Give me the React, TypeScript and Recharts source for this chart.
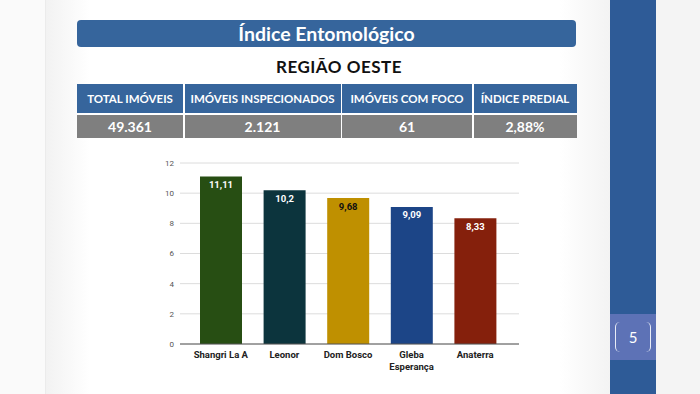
import { BarChart, Bar, XAxis, YAxis, CartesianGrid, LabelList, Cell } from "recharts";

const bairros = ["Shangri La A", "Leonor", "Dom Bosco", "Gleba Esperança", "Anaterra"];
const indices = [11.11, 10.2, 9.68, 9.09, 8.33];
const barColors = ["#274e13", "#0c343d", "#bf9000", "#1c4587", "#85200c"];
const labelColors = ["#ffffff", "#ffffff", "#111111", "#ffffff", "#ffffff"];
const yTicks = [0, 2, 4, 6, 8, 10, 12];

const tableHeaders = ["TOTAL IMÓVEIS", "IMÓVEIS INSPECIONADOS", "IMÓVEIS COM FOCO", "ÍNDICE PREDIAL"];
const tableValues = ["49.361", "2.121", "61", "2,88%"];
const colWidths = [106, 156, 130, 103];

const data = bairros.map((name, i) => ({ name, value: indices[i] }));

const fmt = (v: any) => String(v).replace(".", ",");

// long names go on two lines, like the sheet chart does
function CategoryTick(props: any) {
  const { x, y, payload } = props;
  const name: string = payload.value;
  const lines = name.length > 12 ? [name.slice(0, name.indexOf(" ")), name.slice(name.indexOf(" ") + 1)] : [name];
  return (
    <text x={x} y={y} textAnchor="middle" fontSize={9.5} fontWeight="bold" fontFamily="Roboto" fill="#222">
      {lines.map((l, i) => (
        <tspan key={l} x={x} dy={i === 0 ? 8 : 11.5}>
          {l}
        </tspan>
      ))}
    </text>
  );
}

function ValueLabel(props: any) {
  const { x, y, width, index, value } = props;
  return (
    <text
      x={x + width / 2}
      y={y + 9}
      textAnchor="middle"
      dominantBaseline="middle"
      fontSize={9.5}
      fontWeight="bold"
      fontFamily="Roboto"
      fill={labelColors[index]}
    >
      {fmt(value)}
    </text>
  );
}

export default function App() {
  return (
    <div
      style={{
        position: "absolute",
        left: 0,
        top: 0,
        width: 700,
        height: 394,
        overflow: "hidden",
        background: "linear-gradient(90deg, #fafafa 0px, #fafafa 45px, #e4e4e4 45px, #f2f2f2 46px, #ffffff 90px, #ffffff 560px, #f3f3f3 610px)",
        fontFamily: "Lato, 'Open Sans', sans-serif",
      }}
    >
      {/* right band */}
      <div style={{ position: "absolute", left: 610, top: 0, width: 46, height: 394, background: "#2e5b97" }} />
      <div style={{ position: "absolute", left: 656, top: 0, width: 44, height: 394, background: "#f4f4f4" }} />
      <div
        style={{
          position: "absolute",
          left: 610,
          top: 314,
          width: 46,
          height: 46,
          background: "#5d72b6",
          display: "flex",
          alignItems: "center",
          justifyContent: "center",
        }}
      >
        <div
          style={{
            width: 34,
            height: 30,
            borderLeft: "1.5px solid #e8ecf6",
            borderRight: "1.5px solid #e8ecf6",
            borderRadius: 5,
            color: "#fff",
            fontSize: 15,
            fontFamily: "Lato",
            display: "flex",
            alignItems: "center",
            justifyContent: "center",
          }}
        >
          5
        </div>
      </div>

      {/* title */}
      <div
        style={{
          position: "absolute",
          left: 77,
          top: 20,
          width: 499,
          height: 27,
          borderRadius: 4,
          background: "#36659c",
          color: "#fff",
          fontWeight: "bold",
          fontSize: 19.5,
          lineHeight: "27px",
          textAlign: "center",
        }}
      >
        Índice Entomológico
      </div>
      <div
        style={{
          position: "absolute",
          left: 77,
          top: 56,
          width: 524,
          textAlign: "center",
          fontWeight: "bold",
          fontSize: 17,
          color: "#111",
          letterSpacing: 0.5,
        }}
      >
        REGIÃO OESTE
      </div>

      {/* table */}
      <div style={{ position: "absolute", left: 77, top: 84, display: "flex", gap: 1.5 }}>
        {tableHeaders.map((h, i) => (
          <div key={h} style={{ width: colWidths[i] }}>
            <div
              style={{
                height: 29,
                background: "#36659c",
                color: "#fff",
                fontWeight: "bold",
                fontSize: 11.5,
                lineHeight: "29px",
                textAlign: "center",
                whiteSpace: "nowrap",
              }}
            >
              {h}
            </div>
            <div
              style={{
                marginTop: 2,
                height: 23,
                background: "#7f7f7f",
                color: "#fff",
                fontWeight: "bold",
                fontSize: 14,
                lineHeight: "23px",
                textAlign: "center",
              }}
            >
              {tableValues[i]}
            </div>
          </div>
        ))}
      </div>

      {/* chart */}
      <div style={{ position: "absolute", left: 140, top: 150 }}>
        <BarChart width={390} height={230} data={data} margin={{ top: 13, right: 11, left: 0, bottom: 6 }}>
          <CartesianGrid vertical={false} stroke="#dcdcdc" />
          <XAxis
            dataKey="name"
            interval={0}
            tickLine={false}
            tickSize={4}
            tickMargin={2}
            height={30}
            padding={{ left: 9, right: 12 }}
            stroke="#555"
            tick={<CategoryTick />}
          />
          <YAxis
            domain={[0, 12]}
            ticks={yTicks}
            width={40}
            axisLine={false}
            tickLine={false}
            tickSize={4}
            tickMargin={2}
            tick={{ fontSize: 8, fill: "#555", fontFamily: "Roboto" }}
          />
          <Bar dataKey="value" barSize={42} isAnimationActive={false}>
            {data.map((d, i) => (
              <Cell key={d.name} fill={barColors[i]} />
            ))}
            <LabelList dataKey="value" content={<ValueLabel />} />
          </Bar>
        </BarChart>
      </div>
    </div>
  );
}
